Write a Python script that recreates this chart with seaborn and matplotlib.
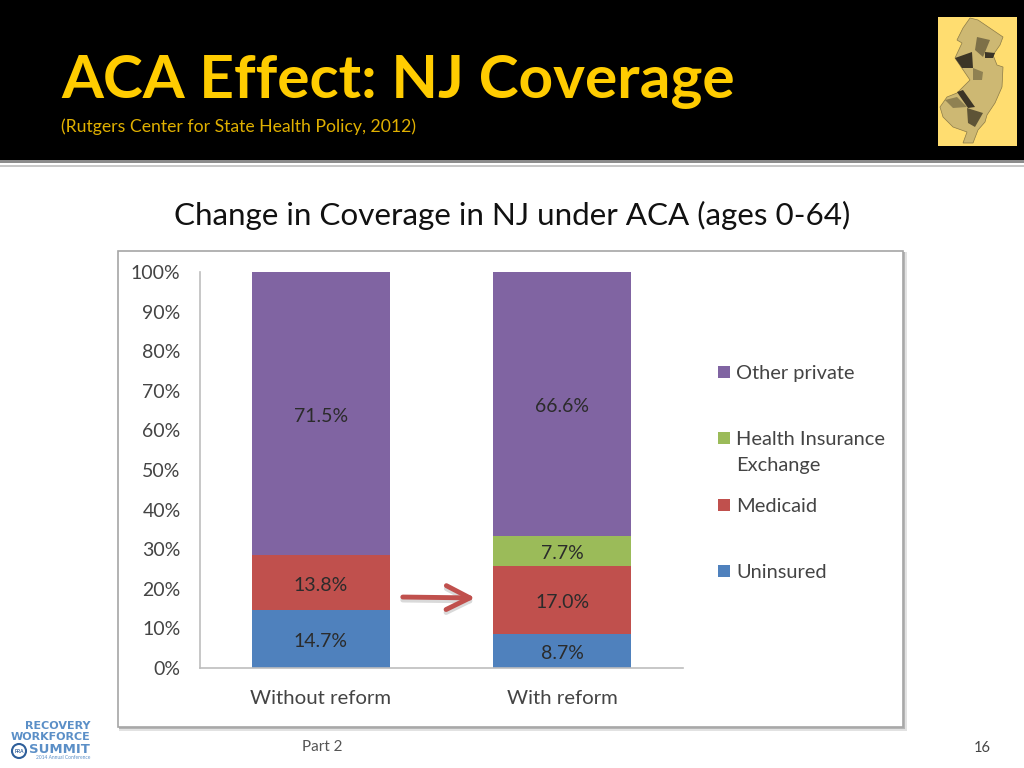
import pandas as pd
import seaborn as sns
import matplotlib.pyplot as plt
from matplotlib.patches import Rectangle, Polygon, Circle

sns.set_style("white")
plt.rcParams['font.family'] = ['Lato', 'DejaVu Sans']

categories = ["Without reform", "With reform"]
uninsured = [14.7, 8.7]
medicaid = [13.8, 17.0]
exchange = [0, 7.7]
other_private = [71.5, 66.6]

series_names = ["Uninsured", "Medicaid", "Health Insurance\nExchange", "Other private"]
series_values = [uninsured, medicaid, exchange, other_private]
series_colors = ["#4F81BD", "#C0504D", "#9BBB59", "#8064A2"]
legend_y = [571, 505, 438, 372]

fig = plt.figure(figsize=(10.24, 7.68), dpi=100, facecolor="white")

# slide background in pixel coords
bg = fig.add_axes([0, 0, 1, 1])
bg.set_xlim(0, 1024)
bg.set_ylim(768, 0)
bg.axis("off")
bg.add_patch(Rectangle((0, 0), 1024, 160, color="black", lw=0))
bg.add_patch(Rectangle((0, 160), 1024, 3, color="#8c8c8c", lw=0))
bg.add_patch(Rectangle((0, 165), 1024, 2, color="#c8c8c8", lw=0))

bg.text(61, 98, "ACA Effect: NJ Coverage", color="#FFCC00", fontsize=43.5, fontweight="bold", va="baseline")
bg.text(61, 132, "(Rutgers Center for State Health Policy, 2012)", color="#E0B000", fontsize=12.7, va="baseline")
bg.text(512, 225, "Change in Coverage in NJ under ACA (ages 0-64)", color="#111111", fontsize=22.6, ha="center", va="baseline")

# chart panel with a soft shadow
bg.add_patch(Rectangle((119, 252), 788, 479, color="#e2e2e2", lw=0))
bg.add_patch(Rectangle((119, 252), 786, 477, color="#b5b5b5", lw=0))
bg.add_patch(Rectangle((118, 251), 785, 476, facecolor="white", edgecolor="#a6a6a6", lw=1.2))

# NJ map thumbnail
bg.add_patch(Rectangle((938, 17), 79, 129, color="#FFDD70", lw=0))
outline = [(970, 18), (978, 20), (1003, 37), (1000, 45), (993, 55), (997, 65), (1003, 67), (1002, 87),
           (995, 103), (987, 115), (985, 122), (978, 130), (973, 143), (963, 143), (967, 132), (953, 127),
           (943, 117), (940, 107), (947, 97), (957, 93), (970, 80), (955, 58), (962, 43), (957, 40), (963, 28)]
bg.add_patch(Polygon(outline, facecolor="#CDB873", edgecolor="#8a7a48", lw=0.5))
map_regions = [([(955, 58), (972, 52), (973, 68), (962, 68)], "#3c3526"),
               ([(985, 52), (995, 53), (993, 58), (985, 58)], "#3c3526"),
               ([(977, 37), (990, 40), (983, 57), (975, 50)], "#7d7048"),
               ([(957, 92), (963, 90), (975, 107), (968, 108)], "#3c3526"),
               ([(967, 108), (983, 113), (975, 127), (968, 123)], "#5e5436"),
               ([(945, 100), (957, 97), (967, 107), (953, 108)], "#8f8152"),
               ([(973, 68), (983, 72), (982, 80), (973, 80)], "#8f8152")]
for pts, col in map_regions:
    bg.add_patch(Polygon(pts, facecolor=col, lw=0))

# footer
bg.text(322, 751, "Part 2", color="#555555", fontsize=11, ha="center", va="baseline")
bg.text(982, 752, "16", color="#444444", fontsize=10.5, ha="center", va="baseline")

# logo
logo_blue = "#5B8FC7"
logo_font = "DejaVu Sans"
bg.text(90, 729, "RECOVERY", color=logo_blue, fontsize=8, fontweight="bold", family=logo_font, ha="right", va="baseline")
bg.text(90, 740, "WORKFORCE", color=logo_blue, fontsize=8, fontweight="bold", family=logo_font, ha="right", va="baseline")
bg.text(90, 753, "SUMMIT", color=logo_blue, fontsize=9.5, fontweight="bold", family=logo_font, ha="right", va="baseline")
bg.text(90, 759, "2014 Annual Conference", color=logo_blue, fontsize=3.5, ha="right", va="baseline")
bg.add_patch(Circle((19, 751), 7, facecolor="white", edgecolor="#2F5F9A", lw=1.5))
bg.text(19, 753, "PRA", color="#2F5F9A", fontsize=3.5, fontweight="bold", ha="center", va="baseline")

# stacked bars
ax = fig.add_axes([200 / 1024, 1 - 668 / 768, 483 / 1024, 396 / 768])
ax.patch.set_alpha(0)
bottoms = [0, 0]
for name, vals, col in zip(series_names, series_values, series_colors):
    df = pd.DataFrame({"reform": categories, "share": vals})
    sns.barplot(data=df, x="reform", y="share", color=col, saturation=1, width=0.57,
                bottom=bottoms, errorbar=None, linewidth=0, edgecolor="none", ax=ax)
    for i, v in enumerate(vals):
        if v > 0:
            ax.annotate("%.1f%%" % v, (i, bottoms[i] + v / 2), xytext=(0, -2), textcoords="offset points",
                        ha="center", va="center", fontsize=14, color="#2b2b2b")
    bottoms = [b + v for b, v in zip(bottoms, vals)]

ax.set_xlim(-0.5, 1.5)
ax.set_ylim(0, 100)
ax.set_xlabel("")
ax.set_ylabel("")
ax.set_yticks(range(0, 101, 10))
ax.set_yticklabels(["%d%%" % t for t in range(0, 101, 10)])
ax.tick_params(axis="y", labelsize=14, labelcolor="#444444", length=0, pad=14)
ax.tick_params(axis="x", labelsize=14.7, labelcolor="#444444", length=0, pad=16)
sns.despine(ax=ax)
for side in ["left", "bottom"]:
    ax.spines[side].set_color("#bdbdbd")
    ax.spines[side].set_linewidth(1.2)

# arrow between the bars, shadow first
bg.annotate("", xy=(478, 601), xytext=(400, 600),
            arrowprops=dict(arrowstyle="->,head_length=1.7,head_width=0.86", color="#d9d9d9", lw=3.5))
bg.annotate("", xy=(478, 598), xytext=(400, 597),
            arrowprops=dict(arrowstyle="->,head_length=1.7,head_width=0.86", color="#C0504D", lw=3.5))

# legend drawn by hand to hold the original spacing
for name, col, y in zip(series_names, series_colors, legend_y):
    bg.add_patch(Rectangle((718, y - 6), 12, 12, color=col, lw=0))
    bg.text(736, y - 7, name, fontsize=14.4, color="#444444", va="top", linespacing=1.66)

fig.savefig("out.png", dpi=100)
